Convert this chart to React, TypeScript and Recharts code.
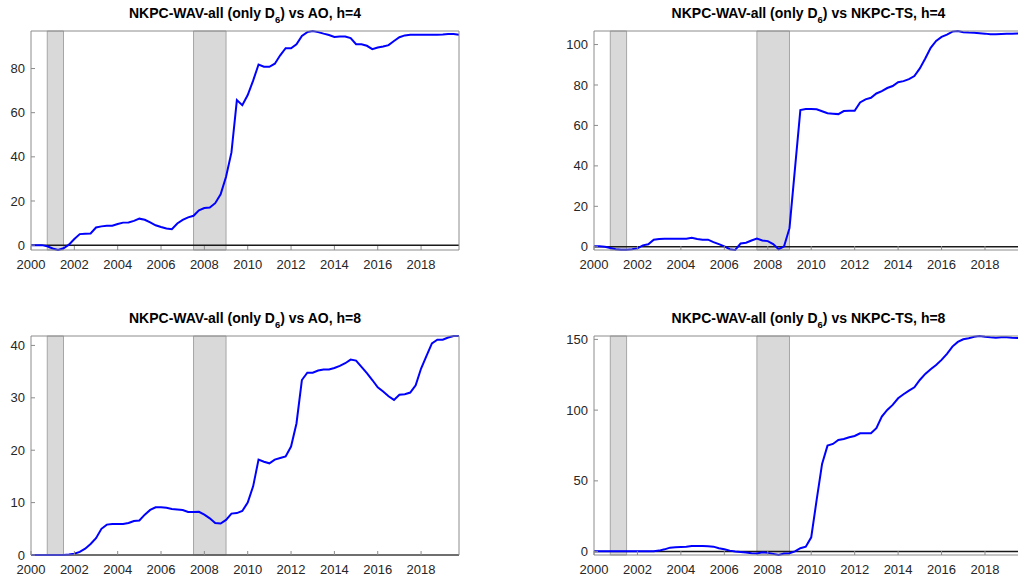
import { LineChart, Line, XAxis, YAxis, ReferenceArea, ReferenceLine } from 'recharts'

// quarterly dates 2000Q1 .. 2019Q4
const quarters = Array.from({ length: 80 }, (_, i) => 2000 + i * 0.25)
const yearTicks = [2000, 2002, 2004, 2006, 2008, 2010, 2012, 2014, 2016, 2018]
const recessions = [
  [2000.75, 2001.5],
  [2007.5, 2009.0],
]

// cumulative loss differentials, one value per quarter
const aoH4 = [
  0, 0, 0, -0.5, -1.5, -2.2, -1.4, 0.2, 2.8, 5.0, 5.2, 5.3, 8.0, 8.5, 8.8, 8.8,
  9.6, 10.2, 10.3, 11.0, 12.0, 11.5, 10.3, 9.0, 8.2, 7.5, 7.2, 9.8, 11.4, 12.6, 13.3, 15.8,
  16.8, 17.0, 19.0, 23.0, 31.0, 42.0, 65.7, 63.4, 68.0, 74.5, 81.8, 80.8, 80.8, 82.2, 86.0, 89.2,
  89.2, 91.0, 94.8, 96.5, 97.0, 96.5, 95.8, 95.2, 94.3, 94.5, 94.5, 93.8, 91.0, 91.0, 90.3, 88.8,
  89.5, 90.0, 90.6, 92.5, 94.2, 95.0, 95.3, 95.3, 95.3, 95.3, 95.3, 95.3, 95.4, 95.6, 95.6, 95.3,
]
const tsH4 = [
  0.2, 0.2, 0, -0.6, -1.2, -1.5, -1.5, -1.2, -0.8, 0.7, 1.2, 3.5, 3.8, 4.0, 4.0, 4.0,
  4.0, 4.0, 4.4, 3.8, 3.5, 3.5, 2.3, 1.3, 0.2, -1.2, -1.6, 1.6, 2.0, 3.1, 4.1, 3.1,
  2.8, 1.3, -1.2, 0.2, 9.2, 38.4, 67.6, 68.1, 68.1, 68.0, 67.0, 66.0, 65.8, 65.6, 67.1, 67.3,
  67.3, 71.4, 72.9, 73.7, 75.8, 77.0, 78.5, 79.5, 81.4, 81.9, 82.9, 84.4, 88.2, 93.1, 98.4, 101.8,
  103.8, 104.9, 106.4, 106.7, 106.1, 105.9, 105.8, 105.6, 105.4, 105.1, 105.1, 105.2, 105.3, 105.4, 105.5, 105.5,
]
const aoH8 = [
  0, 0, 0, 0, 0, 0, 0, 0.1, 0.25, 0.6, 1.2, 2.1, 3.2, 5.0, 5.8, 5.9,
  5.9, 5.9, 6.1, 6.5, 6.6, 7.7, 8.6, 9.1, 9.1, 9.0, 8.8, 8.7, 8.6, 8.2, 8.2, 8.25,
  7.7, 7.0, 6.1, 6.0, 6.7, 7.9, 8.0, 8.4, 10.0, 13.1, 18.2, 17.8, 17.5, 18.2, 18.5, 18.8,
  20.7, 25.1, 33.4, 34.8, 34.8, 35.2, 35.4, 35.4, 35.7, 36.1, 36.6, 37.3, 37.1, 35.9, 34.7, 33.4,
  32.0, 31.2, 30.3, 29.6, 30.6, 30.7, 31.0, 32.4, 35.6, 38.0, 40.4, 41.1, 41.1, 41.5, 41.8, 41.8,
]
const tsH8 = [
  0.3, 0.3, 0.3, 0.3, 0.3, 0.3, 0.3, 0.3, 0.3, 0.3, 0.3, 0.3, 0.7, 1.6, 2.8, 3.1,
  3.3, 3.5, 4.0, 4.0, 4.0, 3.8, 3.5, 2.4, 1.6, 0.7, 0, -0.2, -0.7, -1.2, -1.4, -0.5,
  -0.9, -1.6, -2.4, -1.4, -1.2, 0.2, 2.4, 3.5, 10.1, 36.5, 62.0, 74.9, 76.1, 78.9, 79.6, 80.8,
  81.7, 83.6, 83.6, 83.6, 87.2, 95.4, 100.1, 103.7, 108.4, 111.2, 113.8, 116.1, 121.3, 125.6, 128.9, 131.9,
  135.5, 139.7, 144.9, 148.2, 150.1, 150.8, 151.9, 152.4, 151.9, 151.5, 151.2, 151.5, 151.5, 151.2, 151.0, 151.0,
]

const FONT = '"Liberation Sans", Arial, Helvetica, sans-serif'
const AXIS = '#8c8c8c'
const TEXT = '#262626'

// space taken by each of the four box axes around the plot
type Pad = { top: number; right: number; bottom: number; left: number }

function Panel(props: {
  left: number
  top: number
  width: number
  height: number
  pad: Pad
  rival: string
  values: number[]
  yTicks: number[]
}) {
  const { left, top, width, height, pad, rival, values, yTicks } = props
  const data = quarters.map((t, i) => ({ t, v: values[i] }))
  const yDomain = [Math.min(...values), Math.max(...values)]
  const xDomain = [quarters[0], quarters[quarters.length - 1]]
  const tickStyle = { fill: TEXT, fontSize: 13, fontFamily: FONT }

  return (
    <div style={{ position: 'absolute', left, top, width, height }}>
      <div
        style={{
          position: 'absolute',
          left: pad.left,
          width: width - pad.left - pad.right,
          top: pad.top - 26,
          lineHeight: '16px',
          textAlign: 'center',
          font: `bold 14px ${FONT}`,
          color: '#000',
          whiteSpace: 'nowrap',
        }}
      >
        NKPC-WAV-all (only D
        <span style={{ fontSize: 9.5, position: 'relative', top: 5 }}>6</span>) vs {rival}
      </div>
      <LineChart
        width={width}
        height={height}
        data={data}
        margin={{ top: 0, right: 0, bottom: 0, left: 0 }}
      >
        <XAxis
          xAxisId='b'
          dataKey='t'
          type='number'
          domain={xDomain}
          ticks={yearTicks}
          interval={0}
          height={pad.bottom}
          stroke={AXIS}
          tickSize={-4}
          tickMargin={14}
          tick={tickStyle}
        />
        <XAxis
          xAxisId='top'
          orientation='top'
          dataKey='t'
          type='number'
          domain={xDomain}
          ticks={yearTicks}
          interval={0}
          height={pad.top}
          stroke={AXIS}
          tickSize={-4}
          tick={false}
        />
        <YAxis
          yAxisId='l'
          type='number'
          domain={yDomain}
          ticks={yTicks}
          interval={0}
          width={pad.left}
          stroke={AXIS}
          tickSize={-4}
          tickMargin={10}
          tick={tickStyle}
        />
        <YAxis
          yAxisId='r'
          orientation='right'
          type='number'
          domain={yDomain}
          ticks={yTicks}
          interval={0}
          width={pad.right}
          stroke={AXIS}
          tickSize={-4}
          tick={false}
        />
        {recessions.map(([a, b]) => (
          <ReferenceArea
            key={a}
            xAxisId='b'
            yAxisId='l'
            x1={a}
            x2={b}
            fill='#d9d9d9'
            fillOpacity={1}
            stroke='#a6a6a6'
            strokeWidth={1}
          />
        ))}
        <ReferenceLine xAxisId='b' yAxisId='l' y={0} stroke='#1a1a1a' strokeWidth={1.5} />
        <Line
          xAxisId='b'
          yAxisId='l'
          dataKey='v'
          type='linear'
          stroke='#0000ff'
          strokeWidth={2}
          dot={false}
          isAnimationActive={false}
        />
      </LineChart>
    </div>
  )
}

export default function App() {
  return (
    <div
      style={{
        position: 'fixed',
        left: 0,
        top: 0,
        width: 1018,
        height: 577,
        overflow: 'hidden',
        background: '#fff',
      }}
    >
      <Panel
        left={0}
        top={0}
        width={470}
        height={280}
        pad={{ top: 31, right: 11, bottom: 30, left: 31 }}
        rival='AO, h=4'
        values={aoH4}
        yTicks={[0, 20, 40, 60, 80]}
      />
      <Panel
        left={540}
        top={0}
        width={490}
        height={280}
        pad={{ top: 31, right: 7, bottom: 30, left: 54 }}
        rival='NKPC-TS, h=4'
        values={tsH4}
        yTicks={[0, 20, 40, 60, 80, 100]}
      />
      <Panel
        left={0}
        top={300}
        width={470}
        height={280}
        pad={{ top: 36, right: 11, bottom: 25, left: 31 }}
        rival='AO, h=8'
        values={aoH8}
        yTicks={[0, 10, 20, 30, 40]}
      />
      <Panel
        left={540}
        top={300}
        width={490}
        height={280}
        pad={{ top: 36, right: 7, bottom: 25, left: 54 }}
        rival='NKPC-TS, h=8'
        values={tsH8}
        yTicks={[0, 50, 100, 150]}
      />
    </div>
  )
}
